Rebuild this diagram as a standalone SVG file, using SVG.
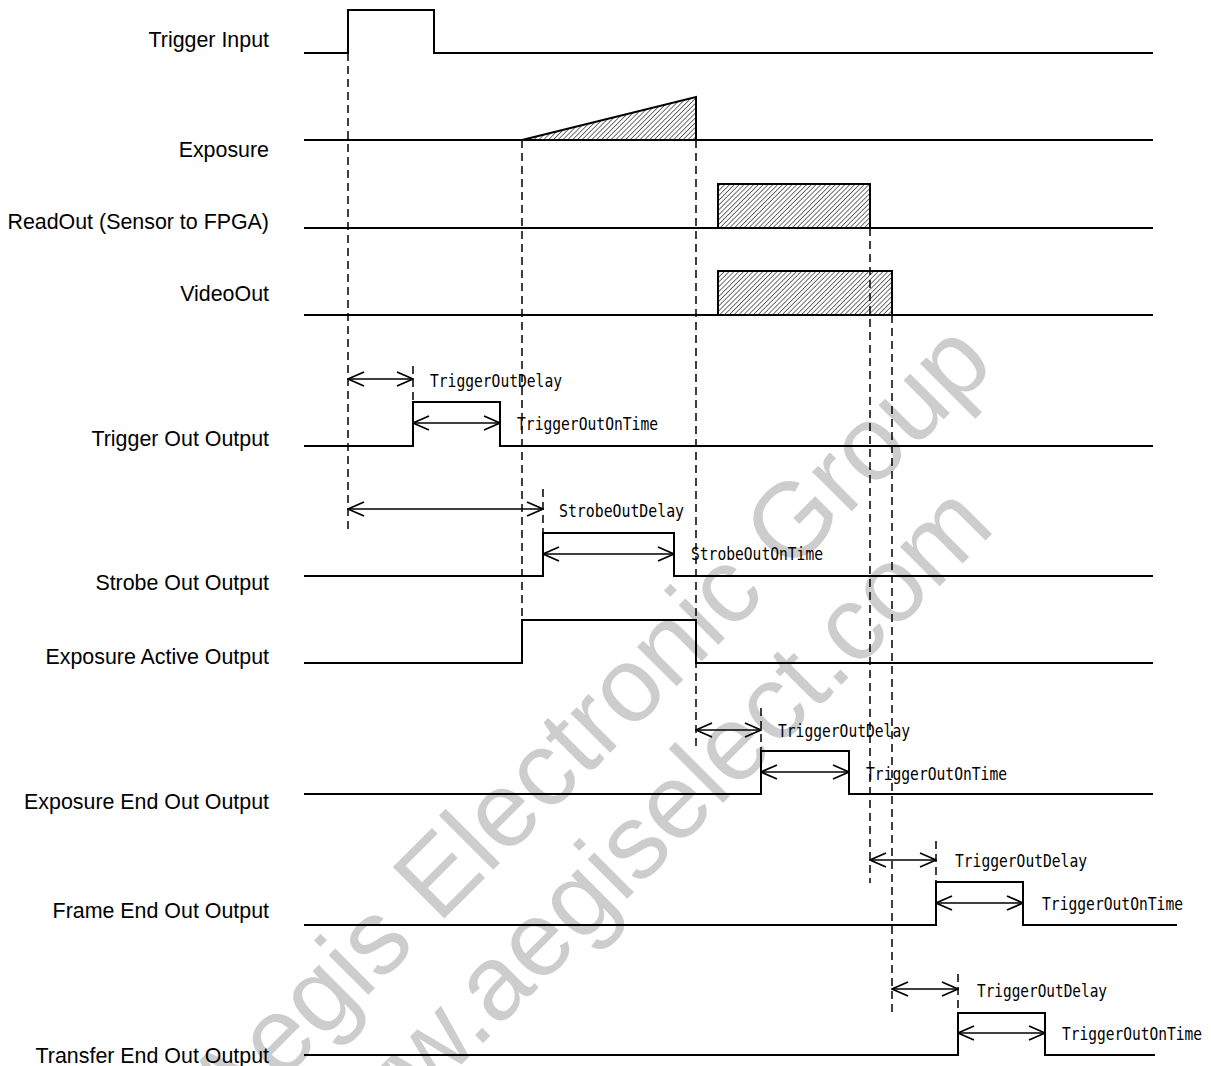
<svg xmlns="http://www.w3.org/2000/svg" width="1211" height="1066" viewBox="0 0 1211 1066">
<style>
.lbl{font-family:"Liberation Sans",Arial,sans-serif;font-size:21.4px;fill:#000;text-anchor:end}
.mono{font-family:"DejaVu Sans Mono","Liberation Mono",monospace;font-size:18px;fill:#000}
.sig{fill:none;stroke:#000;stroke-width:2}
.dash{fill:none;stroke:#000;stroke-width:1.5;stroke-dasharray:8 5}
.arr{fill:none;stroke:#000;stroke-width:1.6;marker-start:url(#ah);marker-end:url(#ah)}
.wm{font-family:"Liberation Sans",Arial,sans-serif;font-size:106px;fill:#cdcdcd}
</style>
<defs>
<pattern id="hatch" patternUnits="userSpaceOnUse" width="3.4" height="3.4" patternTransform="rotate(45)">
<line x1="0" y1="0" x2="0" y2="3.4" stroke="#222" stroke-width="1.3"/>
</pattern>
<marker id="ah" viewBox="0 0 18 16" refX="17" refY="8" markerWidth="18" markerHeight="16" markerUnits="userSpaceOnUse" orient="auto-start-reverse">
<path d="M1,1 L17,8 L1,15" fill="none" stroke="#000" stroke-width="1.8"/>
</marker>
</defs>
<rect width="1211" height="1066" fill="#fff"/>
<g id="watermark">
<text class="wm" transform="translate(230,1133) rotate(-45)">Aegis Electronic Group</text>
<text class="wm" transform="translate(318,1208) rotate(-45)">www.aegiselect.com</text>
</g>
<g id="labels">
<text class="lbl" x="269" y="47">Trigger Input</text>
<text class="lbl" x="269" y="157">Exposure</text>
<text class="lbl" x="269" y="229">ReadOut (Sensor to FPGA)</text>
<text class="lbl" x="269" y="301">VideoOut</text>
<text class="lbl" x="269" y="446">Trigger Out Output</text>
<text class="lbl" x="269" y="590">Strobe Out Output</text>
<text class="lbl" x="269" y="664">Exposure Active Output</text>
<text class="lbl" x="269" y="809">Exposure End Out Output</text>
<text class="lbl" x="269" y="918">Frame End Out Output</text>
<text class="lbl" x="269" y="1063">Transfer End Out Output</text>
</g>
<g id="trigger-input">
<polyline class="sig" points="304,53 348,53 348,10 434,10 434,53 1153,53"/>
</g>
<g id="exposure">
<line class="sig" x1="304" y1="140" x2="1153" y2="140"/>
<polygon points="522,140 696,97 696,140" fill="url(#hatch)" stroke="#000" stroke-width="2"/>
</g>
<g id="readout">
<line class="sig" x1="304" y1="228" x2="1153" y2="228"/>
<rect x="718" y="184" width="152" height="44" fill="url(#hatch)" stroke="#000" stroke-width="2"/>
</g>
<g id="videoout">
<line class="sig" x1="304" y1="315" x2="1153" y2="315"/>
<rect x="718" y="271" width="174" height="44" fill="url(#hatch)" stroke="#000" stroke-width="2"/>
</g>
<g id="trigger-out">
<polyline class="sig" points="304,446 413,446 413,402 500,402 500,446 1153,446"/>
</g>
<g id="strobe-out">
<polyline class="sig" points="304,576 543,576 543,533 674,533 674,576 1153,576"/>
</g>
<g id="exposure-active">
<polyline class="sig" points="304,663 522,663 522,620 696,620 696,663 1153,663"/>
</g>
<g id="exposure-end">
<polyline class="sig" points="304,794 761,794 761,751 849,751 849,794 1153,794"/>
</g>
<g id="frame-end">
<polyline class="sig" points="304,925 936,925 936,882 1023,882 1023,925 1177,925"/>
</g>
<g id="transfer-end">
<polyline class="sig" points="304,1055 958,1055 958,1013 1045,1013 1045,1055 1155,1055"/>
</g>
<g id="connectors">
<line class="dash" x1="348" y1="53" x2="348" y2="533"/>
<line class="dash" x1="413" y1="366" x2="413" y2="402"/>
<line class="dash" x1="522" y1="140" x2="522" y2="620"/>
<line class="dash" x1="543" y1="489" x2="543" y2="533"/>
<line class="dash" x1="696" y1="140" x2="696" y2="751"/>
<line class="dash" x1="761" y1="708" x2="761" y2="751"/>
<line class="dash" x1="870" y1="228" x2="870" y2="883"/>
<line class="dash" x1="892" y1="315" x2="892" y2="1012"/>
<line class="dash" x1="936" y1="841" x2="936" y2="882"/>
<line class="dash" x1="958" y1="974" x2="958" y2="1013"/>
<line class="arr" x1="348" y1="379" x2="413" y2="379"/>
<line class="arr" x1="413" y1="423" x2="500" y2="423"/>
<line class="arr" x1="348" y1="509" x2="543" y2="509"/>
<line class="arr" x1="543" y1="554" x2="674" y2="554"/>
<line class="arr" x1="696" y1="730" x2="761" y2="730"/>
<line class="arr" x1="761" y1="772" x2="849" y2="772"/>
<line class="arr" x1="870" y1="860" x2="936" y2="860"/>
<line class="arr" x1="936" y1="903" x2="1023" y2="903"/>
<line class="arr" x1="892" y1="989" x2="958" y2="989"/>
<line class="arr" x1="958" y1="1033" x2="1045" y2="1033"/>
</g>
<g id="timing-labels">
<text class="mono" x="430" y="387" textLength="132" lengthAdjust="spacingAndGlyphs">TriggerOutDelay</text>
<text class="mono" x="517" y="430" textLength="141" lengthAdjust="spacingAndGlyphs">TriggerOutOnTime</text>
<text class="mono" x="559" y="517" textLength="125" lengthAdjust="spacingAndGlyphs">StrobeOutDelay</text>
<text class="mono" x="691" y="560" textLength="132" lengthAdjust="spacingAndGlyphs">StrobeOutOnTime</text>
<text class="mono" x="778" y="737" textLength="132" lengthAdjust="spacingAndGlyphs">TriggerOutDelay</text>
<text class="mono" x="866" y="780" textLength="141" lengthAdjust="spacingAndGlyphs">TriggerOutOnTime</text>
<text class="mono" x="955" y="867" textLength="132" lengthAdjust="spacingAndGlyphs">TriggerOutDelay</text>
<text class="mono" x="1042" y="910" textLength="141" lengthAdjust="spacingAndGlyphs">TriggerOutOnTime</text>
<text class="mono" x="977" y="997" textLength="130" lengthAdjust="spacingAndGlyphs">TriggerOutDelay</text>
<text class="mono" x="1062" y="1040" textLength="140" lengthAdjust="spacingAndGlyphs">TriggerOutOnTime</text>
</g>
</svg>
